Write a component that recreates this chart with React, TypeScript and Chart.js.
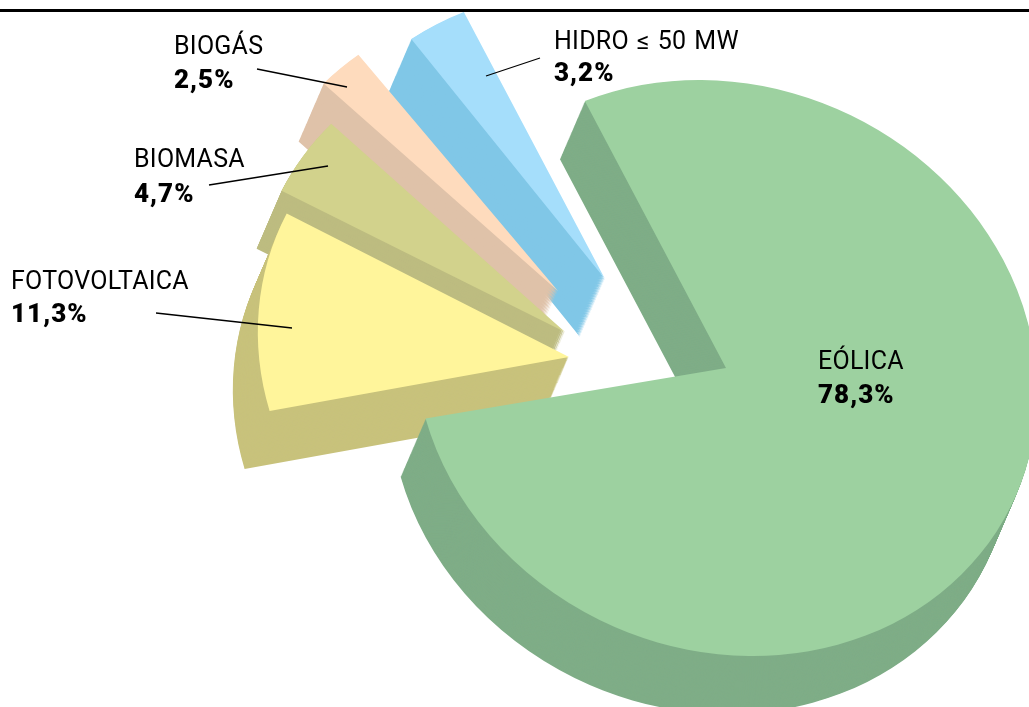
import React, { useEffect, useRef } from "react";
import { Chart, registerables } from "chart.js";

Chart.register(...registerables);

// ---- data ----
const categories = ["EÓLICA", "FOTOVOLTAICA", "BIOMASA", "BIOGÁS", "HIDRO ≤ 50 MW"];
const shares = [78.3, 11.3, 4.7, 2.5, 3.2];
const shareLabels = ["78,3%", "11,3%", "4,7%", "2,5%", "3,2%"];

// ---- styles ----
const topColors = ["#9DD1A0", "#FFF59B", "#D2D28C", "#FEDBBD", "#A5DEFB"];
const sideColors = ["#7FAD87", "#C8C27C", "#BDBC80", "#DFC2A9", "#80C7E7"];

// ---- 3D layout ----
const W = 1029;
const H = 707;
const PIE_X = 726;
const PIE_Y = 368;
const RADIUS_X = 310;
const RADIUS_Y = 288;
const SKEW_X = 27;
const DEPTH_X = -25;
const DEPTH_Y = 58;
const DEPTH_STEPS = 60;
const ROTATION = 337.8;
const explodeX = [0, -157, -161, -168, -121];
const explodeY = [0, -11, -36, -77, -89];
const spinDegrees = [0.2, -0.5, -1, -1.2, 0.2];
const drawOrder = [4, 3, 2, 1, 0];

// ---- annotation layout ----
const labelX = [818, 11, 134, 174, 554];
const nameBaseline = [369, 289, 167, 54, 49];
const shareBaseline = [403, 322, 202, 88, 81];
const leaderLines: (number[] | null)[] = [
  null,
  [156, 313, 292, 328],
  [209, 185, 328, 166],
  [257, 69, 347, 87],
  [486, 76, 540, 58],
];

const pie3d = {
  id: "pie3d",
  beforeDatasetsDraw(chart: any) {
    const ctx = chart.ctx as CanvasRenderingContext2D;
    const arcs = chart.getDatasetMeta(0).data as any[];
    for (const i of drawOrder) {
      const arc = arcs[i];
      const R = arc.outerRadius;
      const place = (dx: number, dy: number) => {
        const a = RADIUS_X / R;
        const c = SKEW_X / R;
        const d = RADIUS_Y / R;
        const e = PIE_X + explodeX[i] + dx - a * arc.x - c * arc.y;
        const f = PIE_Y + explodeY[i] + dy - d * arc.y;
        ctx.setTransform(a, 0, c, d, e, f);
        ctx.translate(arc.x, arc.y);
        ctx.rotate((spinDegrees[i] * Math.PI) / 180);
        ctx.translate(-arc.x, -arc.y);
      };
      const side = Object.create(arc);
      side.options = { ...arc.options, backgroundColor: sideColors[i] };
      ctx.save();
      for (let s = DEPTH_STEPS; s >= 1; s--) {
        place((DEPTH_X * s) / DEPTH_STEPS, (DEPTH_Y * s) / DEPTH_STEPS);
        side.draw(ctx);
      }
      place(0, 0);
      arc.draw(ctx);
      ctx.restore();
    }
    return false;
  },
  afterDraw(chart: any) {
    const ctx = chart.ctx as CanvasRenderingContext2D;
    ctx.save();
    ctx.setTransform(1, 0, 0, 1, 0, 0);
    ctx.fillStyle = "#000";
    ctx.fillRect(0, 9, W, 3);
    ctx.strokeStyle = "#000";
    ctx.lineWidth = 1.3;
    ctx.textAlign = "left";
    ctx.textBaseline = "alphabetic";
    categories.forEach((name, i) => {
      const l = leaderLines[i];
      if (l) {
        ctx.beginPath();
        ctx.moveTo(l[0], l[1]);
        ctx.lineTo(l[2], l[3]);
        ctx.stroke();
      }
      ctx.font = "400 25px Roboto";
      (ctx as any).letterSpacing = "0.25px";
      (ctx as any).wordSpacing = "1.5px";
      ctx.fillText(name, labelX[i], nameBaseline[i]);
      ctx.font = "900 26px Roboto";
      (ctx as any).letterSpacing = "1px";
      (ctx as any).wordSpacing = "0px";
      ctx.fillText(shareLabels[i], labelX[i], shareBaseline[i]);
    });
    ctx.restore();
  },
};

export default function App() {
  const ref = useRef<HTMLCanvasElement>(null);
  useEffect(() => {
    const chart = new Chart(ref.current!, {
      type: "pie",
      data: {
        labels: categories,
        datasets: [{ data: shares, backgroundColor: topColors, borderWidth: 0 }],
      },
      options: {
        responsive: false,
        animation: false,
        rotation: ROTATION,
        plugins: { legend: { display: false }, tooltip: { enabled: false } },
      },
      plugins: [pie3d],
    } as any);
    return () => chart.destroy();
  }, []);
  return (
    <div style={{ position: "fixed", left: 0, top: 0, width: W, height: H, background: "#fff", overflow: "hidden" }}>
      <canvas ref={ref} width={W} height={H} style={{ display: "block" }} />
    </div>
  );
}
